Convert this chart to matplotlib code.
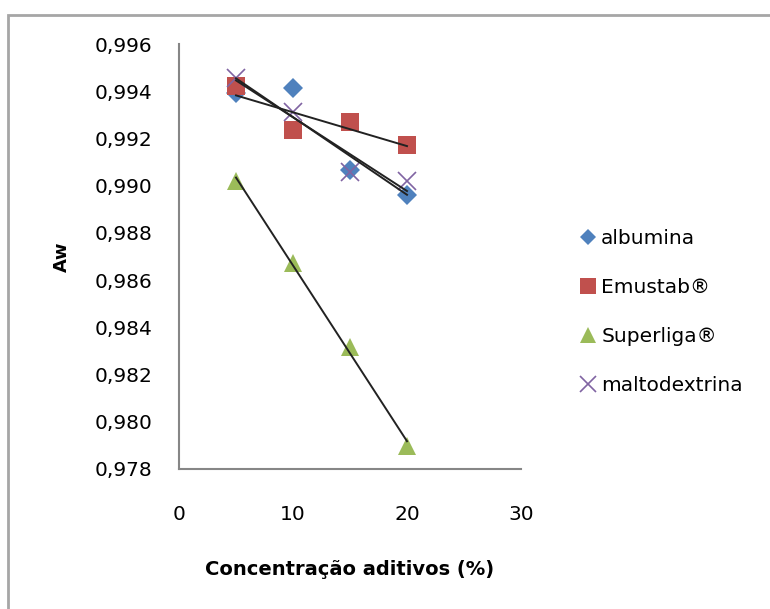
import numpy as np
import matplotlib.pyplot as plt
from matplotlib.patches import Rectangle
from matplotlib.ticker import FuncFormatter

# Dados
conc = np.array([5, 10, 15, 20])
albumina = np.array([0.99392, 0.99414, 0.99066, 0.98960])
emustab = np.array([0.99422, 0.99236, 0.99270, 0.99172])
superliga = np.array([0.99019, 0.98672, 0.98316, 0.97897])
maltodextrina = np.array([0.99456, 0.99312, 0.99058, 0.99020])

series = [
    ('albumina', albumina, 'D', '#4F81BD', 10),
    ('Emustab\u00ae', emustab, 's', '#C0504D', 13),
    ('Superliga\u00ae', superliga, '^', '#9BBB59', 13),
    ('maltodextrina', maltodextrina, 'x', '#8064A2', 13),
]

fig = plt.figure(figsize=(7.7, 6.09), dpi=100)
ax = fig.add_axes([179 / 770, 1 - 469 / 609, (521 - 179) / 770, (469 - 44) / 609])

# borda da área do gráfico
fig.patches.append(Rectangle((8 / 770, -0.05), 1.0, 1 - 15 / 609 + 0.05,
                             transform=fig.transFigure, fill=False,
                             edgecolor='#A6A6A6', linewidth=2))

for nome, y, mk, cor, ms in series:
    if mk == 'x':
        ax.plot(conc, y, mk, color=cor, markersize=ms, markeredgewidth=1.2,
                label=nome, zorder=3)
    else:
        ax.plot(conc, y, mk, color=cor, markersize=ms, markeredgewidth=0,
                label=nome, zorder=3)
    # linha de tendência linear
    a, b = np.polyfit(conc, y, 1)
    ax.plot([conc[0], conc[-1]], [a * conc[0] + b, a * conc[-1] + b],
            color='#222222', linewidth=1.4, zorder=4)

ax.set_xlim(0, 30)
ax.set_ylim(0.978, 0.996)
ax.set_xticks([0, 10, 20, 30])
ax.set_yticks(np.arange(0.978, 0.9961, 0.002))
ax.yaxis.set_major_formatter(FuncFormatter(lambda v, p: f'{v:.3f}'.replace('.', ',')))
ax.tick_params(length=0, labelsize=14.5)
ax.tick_params(axis='y', pad=19)
ax.tick_params(axis='x', pad=26)

for s in ['top', 'right']:
    ax.spines[s].set_visible(False)
for s in ['left', 'bottom']:
    ax.spines[s].set_color('#868686')
    ax.spines[s].set_linewidth(1.5)

ax.set_xlabel('Concentração aditivos (%)', fontsize=14, fontweight='bold', labelpad=26)
ax.set_ylabel('Aw', fontsize=13, fontweight='bold', labelpad=17)

fig.legend(loc='center left', bbox_to_anchor=(568 / 770, 1 - 312 / 609),
           frameon=False, fontsize=14.5, handletextpad=0.15, handlelength=1.0,
           labelspacing=1.48, borderpad=0, markerscale=0.85)

fig.savefig('out.png', dpi=100)
